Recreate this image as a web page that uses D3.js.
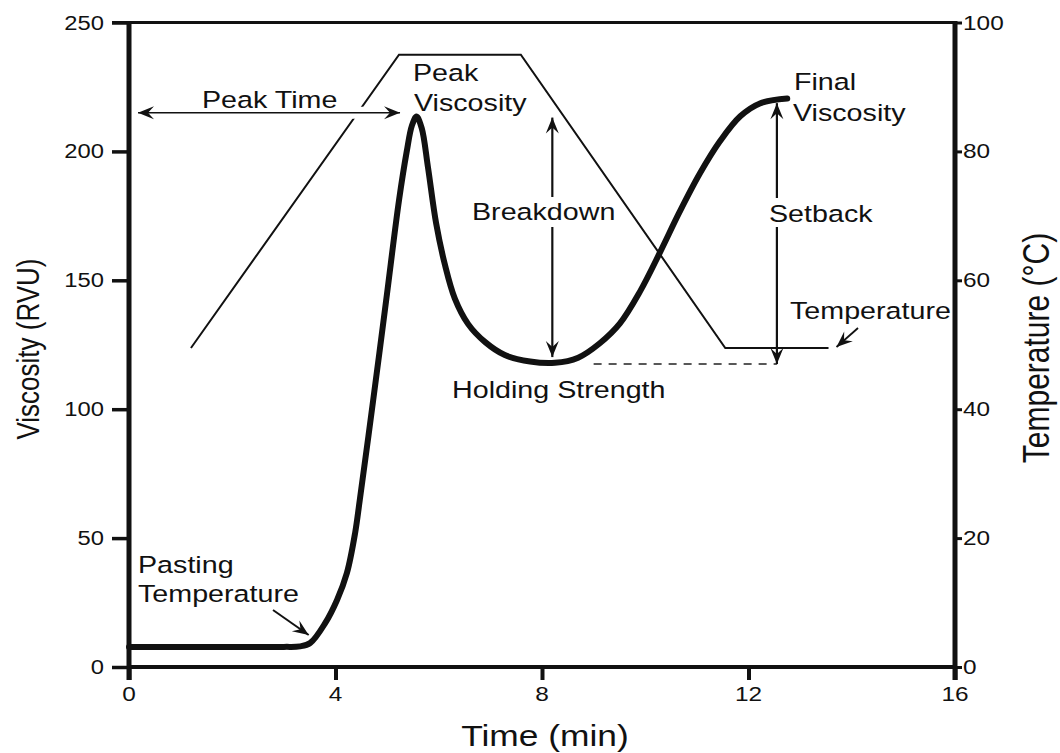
<!DOCTYPE html>
<html>
<head>
<meta charset="utf-8">
<script src="https://cdn.jsdelivr.net/npm/d3@7"></script>
<style>
  html, body { margin: 0; padding: 0; background: #fff; }
  svg { display: block; }
  text { font-family: "Liberation Sans", Arial, sans-serif; fill: #111; }
</style>
</head>
<body>
<svg id="chart" width="1060" height="753"></svg>
<script>
// ---------- data ----------
const timeTicks = [0, 4, 8, 12, 16];
const viscosityTicks = [0, 50, 100, 150, 200, 250];
const temperatureTicks = [0, 20, 40, 60, 80, 100];

// RVA viscosity profile (time in min, viscosity in RVU)
const viscTime = [0, 1.5, 3.0, 3.31, 3.51, 3.80, 4.03, 4.22, 4.38, 4.47, 4.73, 4.98, 5.23, 5.38, 5.48, 5.57,
                  5.67, 5.79, 5.95, 6.12, 6.31, 6.57, 6.90, 7.28, 7.77, 8.25, 8.70, 9.12, 9.51, 9.90,
                  10.29, 10.67, 11.06, 11.45, 11.84, 12.22, 12.75];
const viscRVU  = [7.8, 7.8, 7.8, 8.0, 9.3, 17, 26, 36.4, 52, 64.7, 103.5, 142, 181, 200, 210, 213.5,
                  209, 194, 172, 156, 143, 133, 126, 121, 118.5, 118, 120, 125.6, 133.3, 145.7,
                  161, 176.7, 191.5, 204, 213.6, 218.6, 220.5];

// Temperature profile (time in min, temperature in °C)
const tempTime = [1.2, 5.23, 7.59, 11.55, 13.55];
const tempC    = [49.5, 95, 95, 49.5, 49.5];

// Key parameters
const peakTime = 5.25;
const peakViscosity = 213.5;
const holdingStrength = 117.5;
const finalViscosity = 219.5;
const breakdownTime = 8.2;
const setbackTime = 12.55;
const holdLineStart = 9.0;

// ---------- setup ----------
const svg = d3.select("#chart");
const x = d3.scaleLinear().domain([0, 16]).range([129, 955]);
const y = d3.scaleLinear().domain([0, 250]).range([667, 22.5]);
const yT = d3.scaleLinear().domain([0, 100]).range([667, 22.5]);
const SX = 1.22; // horizontal stretch of lettering in the original
const AF = 23.5; // annotation font size

function label(txt, px, py, size, anchor) {
  svg.append("text")
    .attr("transform", `translate(${px},${py}) scale(${SX},1)`)
    .attr("text-anchor", anchor || "start")
    .attr("font-size", size)
    .text(txt);
}

// arrow markers
const defs = svg.append("defs");
defs.append("marker")
  .attr("id", "ah").attr("viewBox", "-18 -8 20 16")
  .attr("refX", 0).attr("refY", 0)
  .attr("markerWidth", 20).attr("markerHeight", 16)
  .attr("markerUnits", "userSpaceOnUse")
  .attr("orient", "auto-start-reverse")
  .append("path").attr("d", "M0,0 L-16,-6.5 L-10,0 L-16,6.5 Z").attr("fill", "#111");

// ---------- axes ----------
const gx = svg.append("g").attr("transform", `translate(0,${y(0)})`)
  .call(d3.axisBottom(x).tickValues(timeTicks).tickSize(13).tickPadding(6).tickSizeOuter(0));
gx.select(".domain").remove();
gx.selectAll(".tick line").attr("stroke", "#111").attr("stroke-width", 4);
gx.selectAll(".tick text").remove();
timeTicks.forEach(t => label(d3.format("d")(t), x(t), 701, 20, "middle"));

const gy = svg.append("g").attr("transform", `translate(${x(0)},0)`)
  .call(d3.axisLeft(y).tickValues(viscosityTicks).tickSize(17).tickSizeOuter(0));
gy.select(".domain").remove();
gy.selectAll(".tick line").attr("stroke", "#111").attr("stroke-width", 3.5);
gy.selectAll(".tick text").remove();
viscosityTicks.forEach(v => label(String(v), 104, y(v) + 7, 19.5, "end"));

const gr = svg.append("g").attr("transform", `translate(${x(16)},0)`)
  .call(d3.axisRight(yT).tickValues(temperatureTicks).tickSize(7).tickSizeOuter(0));
gr.select(".domain").remove();
gr.selectAll(".tick line").attr("stroke", "#111").attr("stroke-width", 3);
gr.selectAll(".tick text").remove();
temperatureTicks.forEach(v => label(String(v), 963, yT(v) + 7, 20, "start"));

// frame
svg.append("line").attr("x1", x(0) - 17).attr("x2", x(16)).attr("y1", y(250)).attr("y2", y(250))
  .attr("stroke", "#111").attr("stroke-width", 3);
svg.append("line").attr("x1", x(0)).attr("x2", x(16)).attr("y1", y(0)).attr("y2", y(0))
  .attr("stroke", "#111").attr("stroke-width", 4);
svg.append("line").attr("x1", x(0)).attr("x2", x(0)).attr("y1", y(250) - 1.5).attr("y2", y(0) + 13)
  .attr("stroke", "#111").attr("stroke-width", 5);
svg.append("line").attr("x1", x(16)).attr("x2", x(16)).attr("y1", y(250) - 1.5).attr("y2", y(0) + 13)
  .attr("stroke", "#111").attr("stroke-width", 5);

// axis titles
label("Time (min)", 545, 746, 29, "middle");
svg.append("text")
  .attr("transform", `translate(39,349) rotate(-90) scale(1,${SX})`)
  .attr("text-anchor", "middle").attr("font-size", 26).text("Viscosity (RVU)");
svg.append("text")
  .attr("transform", `translate(1049,348) rotate(-90) scale(1,${SX})`)
  .attr("text-anchor", "middle").attr("font-size", 30).text("Temperature (°C)");

// ---------- temperature line ----------
const tempPts = tempTime.map((t, i) => [t, tempC[i]]);
svg.append("path").datum(tempPts)
  .attr("d", d3.line().x(d => x(d[0])).y(d => yT(d[1])))
  .attr("fill", "none").attr("stroke", "#111").attr("stroke-width", 2);

// ---------- viscosity curve ----------
const viscPts = viscTime.map((t, i) => [t, viscRVU[i]]);
svg.append("path").datum(viscPts)
  .attr("d", d3.line().x(d => x(d[0])).y(d => y(d[1])).curve(d3.curveCatmullRom.alpha(0.5)))
  .attr("fill", "none").attr("stroke", "#111").attr("stroke-width", 6)
  .attr("stroke-linejoin", "round").attr("stroke-linecap", "round");

// ---------- annotations ----------
// Peak time arrow (white halo to break the temperature line)
const ptY = y(215);
svg.append("line").attr("x1", x(0) + 30).attr("x2", x(peakTime) - 30).attr("y1", ptY).attr("y2", ptY)
  .attr("stroke", "#fff").attr("stroke-width", 12);
svg.append("line").attr("x1", x(0) + 9).attr("x2", x(peakTime)).attr("y1", ptY).attr("y2", ptY)
  .attr("stroke", "#111").attr("stroke-width", 1.6)
  .attr("marker-start", "url(#ah)").attr("marker-end", "url(#ah)");
label("Peak Time", 202, 108, AF, "start");

label("Peak", 413, 81, AF, "start");
label("Viscosity", 414, 111, AF, "start");

// Breakdown arrow
const bx = x(breakdownTime);
svg.append("line").attr("x1", bx).attr("x2", bx).attr("y1", y(peakViscosity) + 1).attr("y2", 197)
  .attr("stroke", "#111").attr("stroke-width", 2.2).attr("marker-start", "url(#ah)");
svg.append("line").attr("x1", bx).attr("x2", bx).attr("y1", 227).attr("y2", y(holdingStrength) - 7)
  .attr("stroke", "#111").attr("stroke-width", 2.2).attr("marker-end", "url(#ah)");
label("Breakdown", 472, 220, AF, "start");

// Holding strength dashed line
svg.append("line").attr("x1", x(holdLineStart)).attr("x2", x(setbackTime)).attr("y1", y(holdingStrength)).attr("y2", y(holdingStrength))
  .attr("stroke", "#222").attr("stroke-width", 1.5).attr("stroke-dasharray", "8,7");
label("Holding Strength", 452, 398, AF, "start");

// Setback arrow
const sx = x(setbackTime);
svg.append("line").attr("x1", sx).attr("x2", sx).attr("y1", y(finalViscosity) + 2).attr("y2", 198)
  .attr("stroke", "#111").attr("stroke-width", 2.2).attr("marker-start", "url(#ah)");
svg.append("line").attr("x1", sx).attr("x2", sx).attr("y1", 227).attr("y2", y(holdingStrength))
  .attr("stroke", "#111").attr("stroke-width", 2.2).attr("marker-end", "url(#ah)");
label("Setback", 769, 222, AF, "start");

label("Final", 794, 90, AF, "start");
label("Viscosity", 793, 121, AF, "start");

// Temperature label + arrow
label("Temperature", 790, 319, AF, "start");
svg.append("line").attr("x1", 858).attr("x2", x(13.55) + 8).attr("y1", 328).attr("y2", yT(49.5) - 1)
  .attr("stroke", "#111").attr("stroke-width", 1.8).attr("marker-end", "url(#ah)");

// Pasting temperature label + arrow
label("Pasting", 138, 573, AF, "start");
label("Temperature", 138, 602, AF, "start");
svg.append("line").attr("x1", 273).attr("x2", x(3.5) - 1).attr("y1", 610).attr("y2", y(9.3) - 8)
  .attr("stroke", "#111").attr("stroke-width", 2).attr("marker-end", "url(#ah)");
</script>
</body>
</html>
